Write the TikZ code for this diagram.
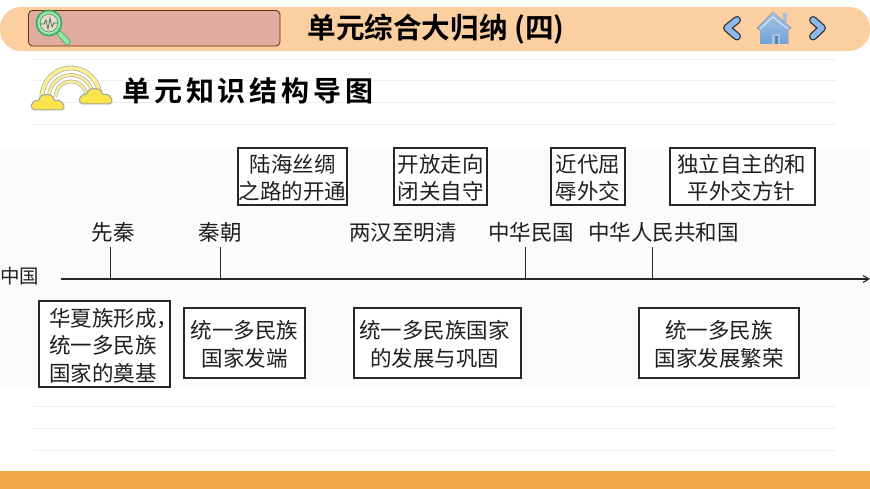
\documentclass[tikz,border=0pt]{standalone}
\usepackage{fontspec}
\setmainfont{Noto Sans CJK SC}[BoldFont={Noto Sans CJK SC Bold}]
\newfontfamily\headfont{Noto Sans CJK SC Bold}[LetterSpace=14]
\usetikzlibrary{arrows.meta}
\definecolor{barc}{HTML}{FBCF9F}
\definecolor{redc}{HTML}{E0AC9F}
\definecolor{botc}{HTML}{F3A54A}
\definecolor{linec}{HTML}{EFEFEF}
\definecolor{bandc}{HTML}{FBFBFB}
\definecolor{glassc}{HTML}{35B06A}
\definecolor{handlec}{HTML}{8FEA9F}
\definecolor{navc}{HTML}{8DB8EC}
\definecolor{cloudc}{HTML}{FBE34A}
\definecolor{archc}{HTML}{9AA5A8}
\definecolor{hometop}{HTML}{A9C3DE}
\definecolor{homebot}{HTML}{6FA2DC}
\tikzset{
  txt/.style={inner sep=0pt,font=\fontsize{21.5}{27.5}\selectfont,align=center,text=black!88},
  lbl/.style={inner sep=0pt,font=\fontsize{21.5}{27.5}\selectfont,text=black!88},
  ruled/.style={draw=linec,line width=1pt},
  chev/.style={line cap=round,line join=round}
}
\newcommand{\tbox}[7]{%
  \node[draw=black!85,line width=1.1pt,fill=white,txt,minimum width=#4pt-#2pt,minimum height=#5pt-#3pt] (#1) at ({(#2+#4)/2},{(#3+#5)/2}) {};
  \node[txt] (#1t) at ({(#2+#4)/2+#7},{(#3+#5)/2+1.5}) {#6};
}
\newcommand{\arch}[2]{%
  \draw[archc,line width=#2pt+1.2pt] (71-#1,97) arc[start angle=180,end angle=360,radius=#1];
  \draw[cloudc!60!white,line width=#2pt] (71-#1,97) arc[start angle=180,end angle=360,radius=#1];
}
\newcommand{\cloud}[2]{%
  \begin{scope}[shift={(#1,#2)}]
  \path[draw=archc,line width=1pt,fill=cloudc,rounded corners=2pt] (-15.5,7) .. controls (-18,0) and (-13,-3) .. (-9,-2) .. controls (-8,-10) and (5,-10) .. (6,-2) .. controls (12,-4) and (17,1) .. (15.5,7) -- cycle;
  \end{scope}
}
\begin{document}
\begin{tikzpicture}[x=1pt,y=-1pt]
\useasboundingbox (0,0) rectangle (870,489);
\fill[white] (0,0) rectangle (870,489);
% page furniture
\fill[bandc] (0,148) rectangle (870,388);
\foreach \yy in {60,81,103,125,406,428,450}
  \draw[ruled] (33,\yy) -- (836,\yy);
\fill[botc] (0,471) rectangle (870,489);
\fill[barc,rounded corners=21pt] (0,7) rectangle (870,51);
\draw[black!70!red!70!brown,line width=.8pt,fill=redc,rounded corners=4pt] (28.5,10.5) rectangle (280,46);
% magnifier
\draw[glassc,line width=6pt,line cap=round] (60,34) -- (67.5,42);
\draw[handlec,line width=4.4pt,line cap=round] (60,34) -- (67.5,42);
\draw[glassc,line width=1.8pt,fill=redc!50!white] (49,23) circle (12.5);
\draw[handlec,line width=1pt] (49,23) circle (10.8);
\draw[glassc,line width=.8pt] (49,23) circle (9);
\draw[glassc!70!black,line width=.7pt] (40,24) -- (44,24) -- (46,20) -- (48,29) -- (50,18) -- (52,27) -- (54,23) -- (58,23);
% titles
\node[inner sep=0pt,font=\fontsize{28.6}{30}\selectfont\bfseries,text=black] (title) at (436,29) {单元综合大归纳 (四)};
\node[inner sep=0pt,anchor=west,font=\headfont\fontsize{28}{32}\selectfont,text=black] (head) at (122,91) {单元知识结构导图};
% rainbow
\arch{29}{3.6}\arch{22}{2.4}\arch{15.5}{2.4}
\cloud{48}{103}\cloud{96}{97}
% nav
\draw[chev,black!80,line width=8pt] (737,20) -- (727,28) -- (737,36.5);
\draw[chev,navc,line width=5.4pt] (737,20) -- (727,28) -- (737,36.5);
\draw[chev,black!80,line width=8pt] (813,20) -- (822,28) -- (813,36.5);
\draw[chev,navc,line width=5.4pt] (813,20) -- (822,28) -- (813,36.5);
\fill[hometop] (783,13) rectangle (787,22);
\fill[top color=hometop,bottom color=homebot] (757,28) -- (773,12) -- (791,28) -- (788,30) -- (788,44) -- (760,44) -- (760,30) -- cycle;
\draw[white!70!navc,line width=1pt] (760,29) -- (773,17) -- (788,29);
\fill[hometop] (772,34) rectangle (780,44);
\fill[homebot!80!black] (774.5,36) rectangle (777.5,44);
% timeline
\coordinate (axs) at (61,279);
\coordinate (axe) at (870,279);
\draw[black!85,line width=1.1pt,-{Straight Barb[length=6pt,width=7pt]}] (axs) -- (axe);
\foreach \nm/\xx in {a/110.5,b/220,c/525,d/652.5}{
  \coordinate (\nm top) at (\xx,247);
  \coordinate (\nm bot) at (\xx,279);
  \draw[black!85,line width=1pt] (\nm top) -- (\nm bot);
}
\node[inner sep=0pt,font=\fontsize{19.5}{24}\selectfont,text=black!88] (china) at (19.6,276.5) {中国};
\node[lbl] (l1) at (113,232) {先秦};
\node[lbl] (l2) at (220,232) {秦朝};
\node[lbl] (l3) at (403,232) {两汉至明清};
\node[lbl] (l4) at (531,232) {中华民国};
\node[lbl] (l5) at (663.5,232) {中华人民共和国};
% boxes
\tbox{t1}{238}{148}{347}{205}{陆海丝绸\\之路的开通}{0}
\tbox{t2}{394}{148}{487}{205}{开放走向\\闭关自守}{0}
\tbox{t3}{551}{148}{625}{205}{近代屈\\辱外交}{0}
\tbox{t4}{670}{148}{815}{205}{独立自主的和\\平外交方针}{-1}
\tbox{b1}{39}{301}{170}{387}{}{0}
\node[txt,align=left,anchor=west] (b1text) at (49,345.5) {华夏族形成，\\统一多民族\\国家的奠基};
\tbox{b2}{184}{308}{305}{378}{统一多民族\\国家发端}{0}
\tbox{b3}{354}{308}{521}{378}{统一多民族国家\\的发展与巩固}{-3}
\tbox{b4}{639}{308}{799}{378}{统一多民族\\国家发展繁荣}{0}
\end{tikzpicture}
\end{document}
